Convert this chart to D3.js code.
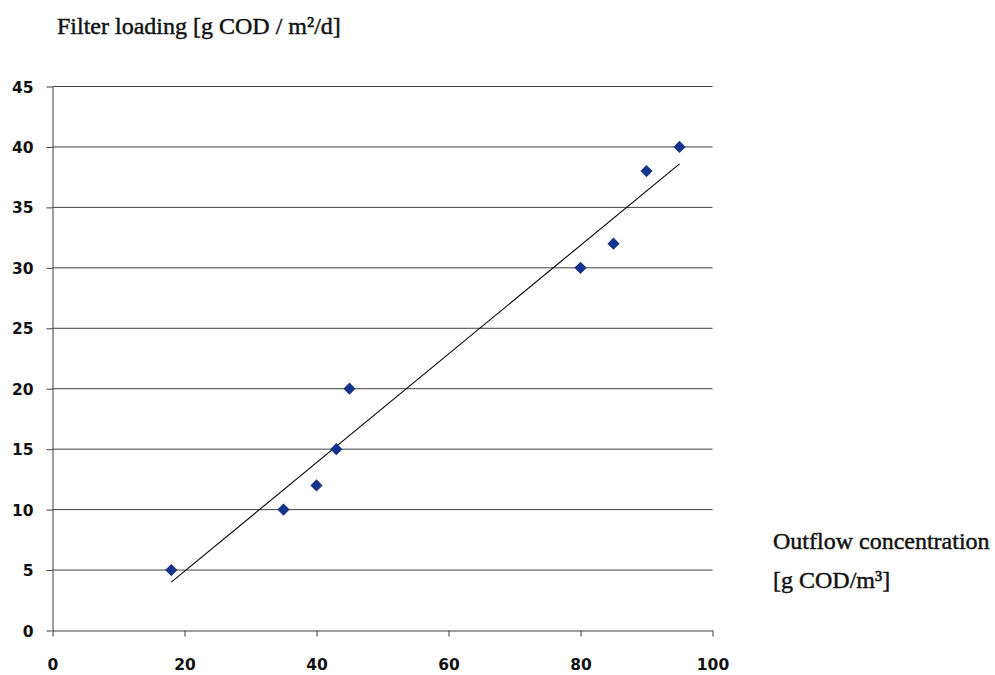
<!DOCTYPE html>
<html><head><meta charset="utf-8">
<script src="https://cdn.jsdelivr.net/npm/d3@7"></script>
<style>body{margin:0;background:#fff}svg{display:block}</style>
</head><body>
<svg id="c" width="995" height="675"></svg>
<script>
const xValues = [18, 35, 40, 43, 45, 80, 85, 90, 95];
const yValues = [5, 10, 12, 15, 20, 30, 32, 38, 40];
const trendX = [18, 95];
const trendY = [4.0, 38.6];
const xTicks = [0, 20, 40, 60, 80, 100];
const yTicks = [0, 5, 10, 15, 20, 25, 30, 35, 40, 45];
const yTitle = "Filter loading [g COD / m²/d]";
const xTitle1 = "Outflow concentration";
const xTitle2 = "[g COD/m³]";

const svg = d3.select("#c");
const x = d3.scaleLinear().domain([0, 100]).range([52.5, 712.5]);
const y = d3.scaleLinear().domain([0, 45]).range([630.5, 86.5]);
const tickFont = "DejaVu Sans, sans-serif";

// gridlines
svg.append("g").selectAll("line").data(yTicks.filter(d => d > 0)).join("line")
  .attr("x1", x(0)).attr("x2", x(100))
  .attr("y1", d => y(d)).attr("y2", d => y(d))
  .attr("stroke", "#404040").attr("stroke-width", 1);

// y axis
const ya = svg.append("g").attr("transform", `translate(${x(0)},0)`)
  .call(d3.axisLeft(y).tickValues(yTicks).tickSize(6).tickSizeOuter(0).tickPadding(13));
ya.select(".domain").attr("stroke", "#404040");
ya.selectAll(".tick line").attr("stroke", "#404040");
ya.selectAll("text").attr("font-family", tickFont).attr("font-size", 15.5)
  .attr("font-weight", "bold").attr("fill", "#111").attr("dy", "0.36em");

// x axis
const xa = svg.append("g").attr("transform", `translate(0,${y(0)})`)
  .call(d3.axisBottom(x).tickValues(xTicks).tickSize(6).tickSizeOuter(0).tickPadding(22));
xa.select(".domain").attr("stroke", "#404040");
xa.selectAll(".tick line").attr("stroke", "#404040");
xa.selectAll("text").attr("font-family", tickFont).attr("font-size", 15.5)
  .attr("font-weight", "bold").attr("fill", "#111");

// trend line
svg.append("line")
  .attr("x1", x(trendX[0])).attr("y1", y(trendY[0]))
  .attr("x2", x(trendX[1])).attr("y2", y(trendY[1]))
  .attr("stroke", "#000").attr("stroke-width", 1.1);

// markers
const diamond = d3.symbol().type(d3.symbolDiamond2).size(95);
svg.append("g").selectAll("path").data(xValues.map((v, i) => [v, yValues[i]])).join("path")
  .attr("d", diamond)
  .attr("transform", d => `translate(${x(d[0])},${y(d[1])})`)
  .attr("fill", "#14338a");

// titles
const serif = "Liberation Serif, Times New Roman, serif";
function title(tx, ty, s) {
  svg.append("text").attr("x", tx).attr("y", ty).attr("font-family", serif)
    .attr("font-size", 24).attr("fill", "#111").attr("stroke", "#111")
    .attr("stroke-width", 0.45).text(s);
}
title(57, 34, yTitle);
title(773, 549, xTitle1);
title(773, 588, xTitle2);
</script>
</body></html>
